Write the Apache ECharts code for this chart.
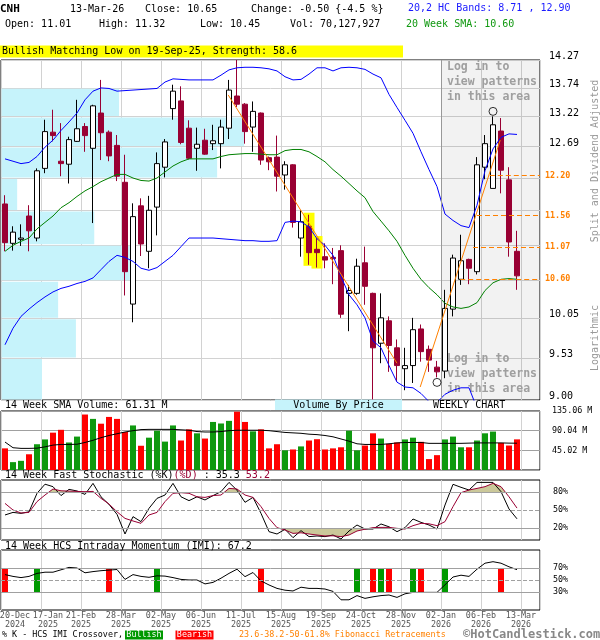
<!DOCTYPE html>
<html>
<head>
<meta charset="utf-8">
<title>CNH weekly chart</title>
<script src="https://cdn.jsdelivr.net/npm/echarts@6.0.0/dist/echarts.min.js"></script>
<style>
html,body{margin:0;padding:0;background:#fff;}
#chart{width:600px;height:640px;}
</style>
</head>
<body>
<div id="chart"></div>
<script>
const FONT = '"DejaVu Sans Mono", "Liberation Mono", monospace';

// ---------------- data ----------------
const ticker = 'CNH';
const lastDate = '13-Mar-26';
const patternText = 'Bullish Matching Low on 19-Sep-25, Strength: 58.6';
const xLabels = ['20-Dec\n2024','17-Jan\n2025','21-Feb\n2025','28-Mar\n2025','02-May\n2025','06-Jun\n2025','11-Jul\n2025','15-Aug\n2025','19-Sep\n2025','24-Oct\n2025','28-Nov\n2025','02-Jan\n2026','06-Feb\n2026','13-Mar\n2026'];

const open = [11.74, 11.13, 11.19, 11.55, 11.21, 12.32, 12.94, 12.44, 12.39, 12.78,
  13.04, 12.66, 13.28, 12.94, 12.71, 12.09, 10.25, 11.71, 11.01, 11.69,
  12.34, 13.36, 13.50, 13.01, 12.66, 12.80, 12.74, 12.74, 13.01, 13.59,
  13.44, 13.03, 13.28, 12.50, 12.51, 12.21, 12.38, 11.21, 11.39, 11.04,
  10.93, 10.92, 11.02, 10.40, 10.40, 10.84, 10.40, 9.72, 10.02, 9.66,
  9.39, 9.43, 9.91, 9.64, 9.41, 9.36, 10.18, 10.60, 10.89, 10.71,
  12.34, 11.99, 12.96, 12.13, 11.01];
const high = [11.88, 11.39, 11.42, 11.72, 12.32, 13.16, 13.34, 13.10, 12.86, 13.52,
  13.10, 13.43, 13.89, 12.97, 12.89, 12.55, 11.75, 11.83, 11.87, 12.59,
  12.82, 13.80, 13.77, 13.15, 13.02, 13.00, 13.07, 13.16, 13.89, 14.27,
  13.46, 13.49, 13.29, 12.52, 12.88, 12.44, 12.39, 11.64, 11.57, 11.21,
  11.13, 11.06, 11.10, 10.52, 10.90, 11.08, 10.41, 10.40, 10.08, 9.77,
  9.66, 10.06, 9.97, 9.69, 9.49, 10.45, 10.96, 11.26, 10.90, 12.51,
  12.89, 13.22, 13.19, 12.34, 11.32];
const low = [11.01, 11.02, 11.09, 11.01, 11.16, 12.24, 12.78, 12.19, 12.07, 12.77,
  12.60, 11.44, 12.46, 12.44, 12.11, 10.37, 10.00, 10.94, 10.76, 11.25,
  12.17, 13.16, 12.73, 12.47, 12.28, 12.55, 12.63, 12.32, 12.82, 13.39,
  12.74, 12.60, 12.38, 12.29, 11.94, 11.97, 11.37, 10.93, 10.81, 10.77,
  10.76, 10.53, 10.06, 9.88, 10.38, 10.24, 9.00, 9.46, 9.35, 9.23,
  9.12, 9.21, 9.48, 9.35, 9.28, 9.27, 10.08, 10.52, 10.53, 10.67,
  12.14, 11.99, 11.91, 10.93, 10.45];
const close = [11.14, 11.30, 11.21, 11.32, 12.28, 12.95, 12.88, 12.40, 12.81, 13.00,
  12.88, 13.41, 12.93, 12.53, 12.19, 10.71, 11.54, 11.12, 11.64, 12.40,
  12.77, 13.68, 12.76, 12.49, 12.73, 12.56, 12.79, 13.03, 13.70, 13.44,
  12.95, 13.31, 12.46, 12.43, 12.19, 12.38, 11.45, 11.46, 10.99, 10.99,
  10.88, 10.90, 10.11, 10.44, 10.79, 10.50, 9.66, 10.06, 9.69, 9.43,
  9.43, 9.90, 9.61, 9.50, 9.35, 10.19, 10.91, 10.87, 10.76, 12.38,
  12.74, 13.07, 12.29, 11.15, 10.65];

const bandUpper = [12.48, 12.44, 12.40, 12.42, 12.52, 12.68, 12.80, 12.97, 13.12, 13.28,
  13.52, 13.68, 13.74, 13.73, 13.68, 13.69, 13.70, 13.71, 13.72, 13.73,
  13.85, 13.91, 13.90, 13.89, 13.89, 13.89, 13.89, 13.98, 14.08, 14.12,
  14.13, 14.13, 14.12, 14.10, 14.06, 13.95, 13.89, 13.90, 14.00, 14.12,
  14.12, 14.06, 14.12, 14.13, 14.12, 14.09, 14.00, 13.93, 13.62, 13.38,
  13.15, 12.92, 12.60, 12.30, 12.02, 11.58, 11.48, 11.40, 11.37, 11.72,
  12.28, 12.65, 12.85, 12.91, 12.90];
const bandLower = [9.70, 9.92, 10.08, 10.18, 10.27, 10.35, 10.42, 10.47, 10.50, 10.54,
  10.57, 10.62, 10.74, 10.86, 10.95, 10.92, 10.86, 10.76, 10.73, 10.77,
  10.86, 10.95, 11.08, 11.21, 11.21, 11.21, 11.21, 11.20, 11.19, 11.18,
  11.17, 11.17, 11.16, 11.16, 11.17, 11.45, 11.47, 11.46, 11.38, 11.20,
  11.10, 10.95, 10.64, 10.38, 10.24, 10.06, 9.75, 9.66, 9.43, 9.22,
  9.16, 9.15, 9.08, 8.98, 8.97, 9.07, 9.12, 9.15, 9.15, 8.90,
  8.75, 8.62, 8.62, 8.66, 8.71];
const sma20 = [11.01, 11.10, 11.16, 11.21, 11.35, 11.45, 11.55, 11.68, 11.76, 11.86,
  11.95, 12.02, 12.10, 12.16, 12.22, 12.22, 12.16, 12.12, 12.11, 12.16,
  12.26, 12.36, 12.43, 12.48, 12.48, 12.48, 12.48, 12.52, 12.55, 12.56,
  12.57, 12.57, 12.56, 12.55, 12.55, 12.62, 12.64, 12.64, 12.60, 12.52,
  12.43, 12.30, 12.19, 12.07, 11.95, 11.84, 11.62, 11.47, 11.32, 11.16,
  10.95, 10.76, 10.60, 10.48, 10.38, 10.26, 10.21, 10.19, 10.21, 10.27,
  10.44, 10.55, 10.60, 10.61, 10.60];

// volume, millions of shares
const volume = [49.5, 18, 21, 36, 59, 70, 85.5, 92, 63, 76.5,
  127, 117, 106, 121.5, 117, 87, 102, 55.5, 74, 90,
  65, 102, 67.5, 93, 84, 72, 110, 106.5, 112.5, 133.5,
  110, 88.5, 93, 49.5, 59, 45, 47, 54, 67.5, 70.5,
  47, 49.5, 52, 90, 45, 56, 84, 72, 60, 63,
  70, 74, 64.5, 25, 34, 70, 76.5, 52, 52, 67.5,
  84, 88, 62, 56, 70.127927];
const volSma = [64, 51, 49.5, 49.5, 50, 53, 57, 58.5, 58.5, 59,
  63, 68, 74, 79, 83, 87, 90, 92.5, 93, 93,
  93, 93, 92, 91, 88, 87, 87, 88, 90, 91,
  91, 91, 91, 90, 88, 86, 85, 84, 82, 81,
  79, 76, 71, 66, 60, 58.5, 58.5, 58.5, 60, 62,
  63, 63, 63, 61, 61, 61, 61, 61, 61.5, 62,
  62, 62, 62, 61.5, 61.31];

const stochK = [41.7, 46, 44.4, 47, 77.8, 93, 88.9, 74, 84.4, 81.7,
  76, 94.4, 72, 59.4, 42.8, 10, 38.9, 30.6, 52.8, 69.4,
  75, 94.4, 72, 65.6, 72, 66.7, 74, 80.6, 96, 83,
  62.8, 71, 44.4, 13.9, 10, 17.8, 3.9, 15.6, 5.6, 6.7,
  5.6, 8.3, 1.7, 15, 25, 18.3, 18.3, 26.7, 22, 13.9,
  20.6, 35, 29.4, 25, 18.3, 58.3, 92.8, 87.8, 83.3, 96,
  96, 96, 80.6, 51.7, 35.3];
const stochD = [61, 50, 45, 46, 64, 75, 85, 82, 81.5, 81,
  80.5, 81, 69.4, 60, 47, 36, 31.7, 27.8, 41.7, 46,
  64, 77.8, 78.9, 77.8, 72, 71, 74, 75, 86, 85,
  75, 71, 55.6, 36, 20.6, 16.7, 11, 12, 10, 8.3,
  6.7, 7, 5.6, 8.3, 15, 18, 20.6, 21, 21, 19.4,
  18.3, 23.9, 27.8, 27, 23.9, 30.6, 55.6, 78.9, 83.3, 86,
  88.9, 94.4, 88.9, 72, 53.2];

const imi = [59, 56, 54, 56, 61, 63, 63, 67, 71, 70,
  62, 64, 65.5, 66.5, 67.5, 51, 59, 56, 54.5, 57,
  56.5, 54, 51, 50, 50, 43.5, 46, 53, 61, 68,
  55.6, 62.5, 48.5, 41.7, 36, 33, 31.7, 38, 36, 36,
  35, 31, 17, 17, 24, 19.4, 22, 24, 25, 21,
  27, 29.4, 29.4, 29.4, 29.4, 42, 55, 58, 56, 68,
  78, 80.5, 78, 72, 67.2];
const imiBullish = [4, 19, 44, 47, 51, 55];
const imiBearish = [0, 13, 32, 46, 48, 52, 62];

// price axis: logarithmic, gridlines at equal price steps
const priceMin = 9.00, priceMax = 14.27;
const priceTicks = [9.00, 9.527, 10.054, 10.581, 11.108, 11.635, 12.162, 12.689, 13.216, 13.743, 14.27];
const priceLabels = [9.00, 9.527, 10.054, 12.689, 13.216, 13.743, 14.27];
// volume by price (relative volume per price band, bottom band first)
const vbpVolume = [7.6, 13.9, 10.6, 23.9, 17.3, 3.0, 40.1, 45.1, 21.9, 0];
// Fibonacci retracement levels and the week where each level line starts
const fibLevels = [12.20, 11.56, 11.07, 10.60];
const fibFromWeek = [61.1, 59.5, 59.0, 57.4];
// zig-zag trend legs [week, price]
const trendDown = [[28.4, 13.61], [49.5, 9.46]];
const trendUp = [[52.4, 9.16], [62.4, 12.80]];
const pivotHighIdx = 61, pivotLowIdx = 54;
const patternIdx = [38, 39];
const loginFromWeek = 55;
const volMax = 135.06;

// ---------------- helpers ----------------
const N = close.length;
const last = N - 1;
const XMAX = 67.375;           // axis span in weeks
const xAt = i => i + 0.5;      // candle sits in the middle of its week
const pts = arr => arr.map((v, i) => [xAt(i), v]);
const fmtInt = n => String(Math.round(n)).replace(/\B(?=(\d{3})+(?!\d))/g, ',');
// date labels sit on every 5th week line; the first two are nudged right so they do not collide
const labelNudge = [1.75, 0.875];
const labelWeeks = xLabels.map((_, i) => i * 5 + (labelNudge[i] || 0));

const MAROON = '#990033';
const KHAKI = '#cbc89a';

function T(x, y, text, o) {
  o = o || {};
  const style = {
    text: text, x: 0, y: 0, fill: o.color || '#000',
    font: (o.bold ? 'bold ' : '') + (o.size || 10) + 'px ' + FONT,
    align: o.align || 'left', verticalAlign: o.va || 'middle',
    textAlign: o.align || 'left', textVerticalAlign: o.va || 'middle'
  };
  if (o.lh) style.lineHeight = o.lh;
  if (o.rich) style.rich = o.rich;
  return { type: 'text', x: x, y: y, rotation: o.rot || 0, z: o.z != null ? o.z : 100, silent: true, style: style };
}
function R(x, y, w, h, fill, z) {
  return { type: 'rect', shape: { x: x, y: y, width: w, height: h }, style: { fill: fill }, z: z != null ? z : 99, silent: true };
}

// ---------------- header / decorations ----------------
const chg = close[last] - close[last - 1];
const pct = chg / close[last - 1] * 100;
const graphics = [
  T(0, 9, ticker, { bold: true, size: 11 }),
  T(70, 9, lastDate),
  T(145, 9, 'Close: ' + close[last].toFixed(2)),
  T(251, 9, 'Change: ' + chg.toFixed(2) + ' {' + pct.toFixed(1) + ' %}'),
  T(408, 8, '20,2 HC Bands: ' + bandLower[last].toFixed(2) + ' , ' + bandUpper[last].toFixed(2), { color: '#1a1aff' }),
  T(5, 24, 'Open: ' + open[last].toFixed(2)),
  T(99, 24, 'High: ' + high[last].toFixed(2)),
  T(200, 24, 'Low: ' + low[last].toFixed(2)),
  T(290, 24, 'Vol: ' + fmtInt(volume[last] * 1e6)),
  T(406, 24, '20 Week SMA: ' + sma20[last].toFixed(2), { color: '#119911' }),
  R(0, 45.5, 403, 12, '#ffff00'),
  T(2, 51.5, patternText),
  T(5, 405, '14 Week SMA Volume: ' + volSma[last].toFixed(2) + ' M'),
  R(275, 399.5, 127, 10.5, '#c6f3fb'),
  T(338.5, 405, 'Volume By Price', { align: 'center' }),
  T(433, 405, 'WEEKLY CHART'),
  T(5, 475, '{k|14 Week Fast Stochastic (%K)}{d|(%D)}{k| : ' + stochK[last].toFixed(1) + ' }{d|' + stochD[last].toFixed(1) + '}', {
    rich: { k: { fill: '#000', font: '10px ' + FONT }, d: { fill: MAROON, font: '10px ' + FONT } }
  }),
  T(5, 546, '14 Week HCS Intraday Momentum (IMI): ' + imi[last].toFixed(1)),
  T(447, 60, 'Log in to\nview patterns\nin this area', { bold: true, size: 11.5, color: '#a8a8a8', va: 'top', lh: 15, z: 1 }),
  T(447, 351.5, 'Log in to\nview patterns\nin this area', { bold: true, size: 11.5, color: '#a8a8a8', va: 'top', lh: 15, z: 1 }),
  T(595, 161, 'Split and Dividend Adjusted', { color: '#999', align: 'center', rot: Math.PI / 2 }),
  T(595, 338, 'Logarithmic', { color: '#999', align: 'center', rot: Math.PI / 2 }),
  T(2, 635, '% K - HCS IMI Crossover,', { size: 8.4 }),
  R(125, 630.5, 38, 9, '#009900'),
  T(144, 635, 'Bullish', { size: 8.4, color: '#fff', align: 'center' }),
  R(175.5, 630.5, 38, 9, '#ff0000'),
  T(194.5, 635, 'Bearish', { size: 8.4, color: '#fff', align: 'center' }),
  T(239, 635, '23.6-38.2-50-61.8% Fibonacci Retracements', { size: 8.4, color: '#ff8000' }),
  T(463, 635, '\u00A9HotCandlestick.com', { size: 12, bold: true, color: '#888' })
];

// ---------------- axes ----------------
const gridBase = { left: 1, right: 60, show: true, borderColor: '#000', borderWidth: 1, backgroundColor: 'rgba(0,0,0,0)', containLabel: false, outerBoundsMode: 'none' };
const grids = [
  Object.assign({ top: 60, height: 340 }, gridBase),
  Object.assign({ top: 411, height: 59 }, gridBase),
  Object.assign({ top: 480, height: 60 }, gridBase),
  Object.assign({ top: 550, height: 60 }, gridBase)
];
const xAxes = [0, 1, 2, 3].map(gi => ({
  type: 'value', gridIndex: gi, min: 0, max: XMAX, interval: 5,
  axisLine: { show: false }, axisTick: { show: false },
  splitLine: { show: true, lineStyle: { color: '#d2d2d2', width: 1 } },
  axisLabel: gi === 3 ? {
    show: true, customValues: labelWeeks, margin: 2,
    showMinLabel: true, showMaxLabel: true, hideOverlap: false,
    fontFamily: FONT, fontSize: 8.4, lineHeight: 8.4, color: '#555',
    formatter: (v, idx) => xLabels[labelWeeks.indexOf(v)] || ''
  } : { show: false }
}));
xAxes.push({ type: 'value', gridIndex: 0, min: 0, max: 100, show: false });

const smallLabel = { fontFamily: FONT, fontSize: 8.4, color: '#000' };
const yAxes = [
  {
    type: 'log', logBase: 10, gridIndex: 0, min: priceMin, max: priceMax, position: 'right',
    axisLine: { show: false }, axisTick: { show: false, customValues: priceTicks },
    splitLine: { show: true, lineStyle: { color: '#d2d2d2', width: 1 } },
    axisLabel: { customValues: priceLabels, formatter: v => Number(v).toFixed(2), margin: 9, color: '#000', fontFamily: FONT, fontSize: 10, verticalAlign: 'bottom', lineHeight: 7, showMinLabel: true, showMaxLabel: true }
  },
  {
    type: 'value', gridIndex: 1, min: 0, max: volMax, interval: volMax / 3, position: 'right',
    axisLine: { show: false }, axisTick: { show: false },
    splitLine: { show: true, lineStyle: { color: '#a0a0a0', width: 1 } },
    axisLabel: Object.assign({ margin: 12, formatter: v => v > 0 ? Number(v).toFixed(2) + ' M' : '' }, smallLabel)
  },
  {
    type: 'value', gridIndex: 2, min: 0, max: 100, position: 'right',
    axisLine: { show: false }, axisTick: { show: false }, splitLine: { show: false },
    axisLabel: Object.assign({ margin: 13, customValues: [20, 50, 80], formatter: '{value}%' }, smallLabel)
  },
  {
    type: 'value', gridIndex: 3, min: 0, max: 100, position: 'right',
    axisLine: { show: false }, axisTick: { show: false }, splitLine: { show: false },
    axisLabel: Object.assign({ margin: 13, customValues: [30, 50, 70], formatter: '{value}%' }, smallLabel)
  }
];

function levelLines(levels) {
  return {
    silent: true, symbol: ['none', 'none'], label: { show: false }, animation: false,
    lineStyle: { color: '#a0a0a0', width: 1 },
    data: levels.map(l => ({ yAxis: l[0], lineStyle: { type: l[1], color: '#a0a0a0', width: 1 } }))
  };
}

// ---------------- series ----------------
const series = [];
// volume by price
series.push({
  type: 'custom', name: 'vbp', xAxisIndex: 4, yAxisIndex: 0, z: 1, silent: true,
  data: vbpVolume.map((v, i) => [v, priceTicks[i], priceTicks[i + 1]]),
  encode: { x: 0, y: [1, 2] },
  renderItem: (p, api) => {
    const a = api.coord([0, api.value(2)]);
    const b = api.coord([api.value(0), api.value(1)]);
    return { type: 'rect', shape: { x: a[0] + 0.5, y: a[1] + 1, width: Math.max(0, b[0] - a[0] - 0.5), height: b[1] - a[1] - 1.5 }, style: { fill: '#c6f3fb' } };
  }
});
// pattern highlight
series.push({
  type: 'custom', name: 'pattern', xAxisIndex: 0, yAxisIndex: 0, z: 2, silent: true,
  data: patternIdx.map(i => [xAt(i), low[i], high[i]]),
  encode: { x: 0, y: [1, 2] },
  renderItem: (p, api) => {
    const t = api.coord([api.value(0), api.value(2)]);
    const b = api.coord([api.value(0), api.value(1)]);
    return { type: 'rect', shape: { x: t[0] - 5.5, y: t[1] - 2, width: 11, height: b[1] - t[1] + 3 }, style: { fill: '#ffff00' } };
  }
});
// candles
series.push({
  type: 'candlestick', name: 'price', xAxisIndex: 0, yAxisIndex: 0, z: 3, barWidth: 6,
  data: open.map((o, i) => [xAt(i), o, close[i], low[i], high[i]]),
  itemStyle: { color: '#ffffff', color0: MAROON, borderColor: '#000000', borderColor0: MAROON, borderWidth: 1 }
});
// bands + SMA
series.push({
  type: 'line', name: 'upper', xAxisIndex: 0, yAxisIndex: 0, z: 4, symbol: 'none', data: pts(bandUpper),
  lineStyle: { color: '#0000ff', width: 1 },
  markArea: { silent: true, itemStyle: { color: 'rgba(0,0,0,0.05)' }, data: [[{ xAxis: loginFromWeek }, { xAxis: XMAX }]] },
  markLine: { silent: true, symbol: ['none', 'none'], label: { show: false }, lineStyle: { color: '#999', type: 'solid', width: 1 }, data: [{ xAxis: loginFromWeek }] }
});
series.push({ type: 'line', name: 'lower', xAxisIndex: 0, yAxisIndex: 0, z: 4, symbol: 'none', data: pts(bandLower), lineStyle: { color: '#0000ff', width: 1 } });
series.push({ type: 'line', name: 'sma20', xAxisIndex: 0, yAxisIndex: 0, z: 4, symbol: 'none', data: pts(sma20), lineStyle: { color: '#008000', width: 1 } });
// trend legs + fib levels
series.push({
  type: 'line', name: 'trendDown', xAxisIndex: 0, yAxisIndex: 0, z: 5, symbol: 'none', clip: false, data: trendDown,
  lineStyle: { color: '#ff8000', width: 1 },
  markLine: {
    silent: true, symbol: ['none', 'none'], animation: false,
    lineStyle: { color: '#ff8000', type: [5, 3], width: 1 },
    label: { show: true, position: 'end', distance: 5, color: '#ff8000', fontFamily: FONT, fontSize: 8.4, fontWeight: 'bold' },
    data: fibLevels.map((lv, i) => [
      { coord: [fibFromWeek[i], lv], label: { formatter: lv.toFixed(2) } },
      { coord: [XMAX, lv] }
    ])
  }
});
series.push({ type: 'line', name: 'trendUp', xAxisIndex: 0, yAxisIndex: 0, z: 5, symbol: 'none', data: trendUp, lineStyle: { color: '#ff8000', width: 1 } });
// pivot circles
series.push({
  type: 'scatter', name: 'pivots', xAxisIndex: 0, yAxisIndex: 0, z: 6, symbol: 'circle', symbolSize: 8,
  itemStyle: { color: 'rgba(0,0,0,0)', borderColor: '#000', borderWidth: 1 },
  data: [
    { value: [xAt(pivotHighIdx), high[pivotHighIdx]], symbolOffset: [0, -5] },
    { value: [xAt(pivotLowIdx), low[pivotLowIdx]], symbolOffset: [0, 5] }
  ]
});
// volume
series.push({
  type: 'bar', name: 'volume', xAxisIndex: 1, yAxisIndex: 1, z: 2, barWidth: 6,
  data: volume.map((v, i) => ({ value: [xAt(i), v], itemStyle: { color: close[i] >= open[i] ? '#0f990f' : '#ff0000' } }))
});
series.push({ type: 'line', name: 'volSma', xAxisIndex: 1, yAxisIndex: 1, z: 4, symbol: 'none', data: pts(volSma), lineStyle: { color: '#000', width: 1 } });
// stochastic fills (overbought / oversold, between %D and threshold)
series.push({
  type: 'custom', name: 'stochFill', xAxisIndex: 2, yAxisIndex: 2, z: 2, silent: true,
  data: stochD.slice(0, -1).map((d, i) => [xAt(i), d]),
  encode: { x: 0, y: 1 },
  renderItem: (p, api) => {
    const i = p.dataIndex;
    const x0 = xAt(i), x1 = xAt(i + 1), d0 = stochD[i], d1 = stochD[i + 1];
    const children = [];
    [[80, true], [20, false]].forEach(([th, above]) => {
      const in0 = above ? d0 > th : d0 < th;
      const in1 = above ? d1 > th : d1 < th;
      if (!in0 && !in1) return;
      let poly;
      if (in0 && in1) poly = [[x0, d0], [x1, d1], [x1, th], [x0, th]];
      else {
        const xc = x0 + (th - d0) / (d1 - d0) * (x1 - x0);
        poly = in0 ? [[x0, d0], [xc, th], [x0, th]] : [[xc, th], [x1, d1], [x1, th]];
      }
      children.push({ type: 'polygon', shape: { points: poly.map(q => api.coord(q)) }, style: { fill: KHAKI } });
    });
    return { type: 'group', children: children };
  }
});
series.push({
  type: 'line', name: '%K', xAxisIndex: 2, yAxisIndex: 2, z: 4, symbol: 'none', data: pts(stochK), lineStyle: { color: '#000', width: 1 },
  markLine: levelLines([[80, 'solid'], [50, 'dashed'], [20, 'solid']])
});
series.push({ type: 'line', name: '%D', xAxisIndex: 2, yAxisIndex: 2, z: 4, symbol: 'none', data: pts(stochD), lineStyle: { color: MAROON, width: 1 } });
// IMI crossovers
const crossData = imiBullish.map(i => [xAt(i), 1]).concat(imiBearish.map(i => [xAt(i), -1]));
series.push({
  type: 'custom', name: 'imiCross', xAxisIndex: 3, yAxisIndex: 3, z: 2, silent: true,
  data: crossData, encode: { x: 0 },
  renderItem: (p, api) => {
    const x = api.value(0);
    const t = api.coord([x, 70]);
    const b = api.coord([x, 30]);
    return { type: 'rect', shape: { x: t[0] - 3, y: t[1], width: 6, height: b[1] - t[1] }, style: { fill: api.value(1) > 0 ? '#009900' : '#ff0000' } };
  }
});
series.push({
  type: 'line', name: 'IMI', xAxisIndex: 3, yAxisIndex: 3, z: 4, symbol: 'none', data: pts(imi), lineStyle: { color: '#000', width: 1 },
  markLine: levelLines([[70, 'solid'], [50, 'dashed'], [30, 'solid']])
});

const chart = echarts.init(document.getElementById('chart'), null, { renderer: 'canvas' });
chart.setOption({
  animation: false,
  backgroundColor: '#fff',
  textStyle: { fontFamily: FONT },
  grid: grids,
  xAxis: xAxes,
  yAxis: yAxes,
  series: series,
  graphic: { elements: graphics }
});
</script>
</body>
</html>
